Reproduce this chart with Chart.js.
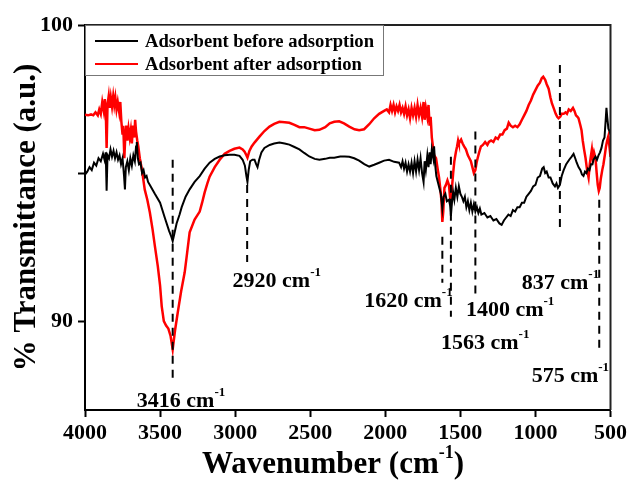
<!DOCTYPE html>
<html>
<head>
<meta charset="utf-8">
<script src="https://cdn.jsdelivr.net/npm/chart.js@4.4.1/dist/chart.umd.min.js"></script>
<style>
  body { margin: 0; background: #fff; }
</style>
</head>
<body>
<canvas id="myChart" width="630" height="480"></canvas>
<script>
const FONT = '"Liberation Serif", "Times New Roman", serif'

// spectrum before adsorption: [wavenumber, %T]
const antes = [
  [4000,94.95],[3985,95.05],[3970,95.2],[3955,95.1],[3940,95.35],[3925,95.25],[3910,95.5],[3895,95.4],
  [3880,95.65],[3870,95.45],[3862,95.7],[3856,94.4],[3850,95.6],[3840,95.5],[3830,95.8],[3820,95.55],
  [3810,95.75],[3800,95.5],[3790,95.7],[3780,95.45],[3770,95.6],[3760,95.3],[3750,95.5],[3740,94.9],
  [3734,94.45],[3728,95.2],[3718,95.4],[3708,95.1],[3698,95.5],[3688,95.25],[3678,95.6],[3668,95.4],
  [3660,95.9],[3655,96.05],[3648,95.5],[3640,95.3],[3630,95.35],[3620,95.0],[3610,95.1],[3600,94.85],
  [3590,94.9],[3580,94.7],[3568,94.6],[3535,94.3],[3500,94.0],[3469,93.5],[3440,93.05],[3425,92.85],
  [3416,92.7],[3405,92.95],[3390,93.3],[3370,93.6],[3356,93.85],[3330,94.2],[3303,94.45],[3270,94.7],
  [3236,94.9],[3203,95.15],[3170,95.35],[3136,95.48],[3103,95.56],[3070,95.6],[3037,95.62],[3005,95.62],
  [2971,95.58],[2950,95.45],[2935,95.25],[2925,94.9],[2918,94.7],[2910,95.1],[2900,95.4],[2885,95.45],
  [2871,95.45],[2860,95.3],[2851,95.2],[2840,95.45],[2825,95.7],[2805,95.85],[2770,95.95],[2740,96.0],
  [2705,96.03],[2670,96.0],[2639,95.96],[2605,95.88],[2572,95.8],[2540,95.68],[2506,95.56],[2470,95.48],
  [2439,95.45],[2400,95.48],[2370,95.52],[2340,95.52],[2300,95.56],[2270,95.56],[2240,95.55],[2207,95.5],
  [2174,95.42],[2140,95.3],[2107,95.22],[2074,95.28],[2041,95.35],[2008,95.42],[1975,95.45],[1941,95.38],
  [1908,95.35],[1895,95.2],[1885,95.4],[1875,95.15],[1865,95.35],[1855,95.05],[1845,95.3],[1835,95.05],
  [1825,95.35],[1815,95.0],[1805,95.4],[1795,95.05],[1785,95.45],[1775,95.1],[1765,95.5],[1755,95.0],
  [1745,94.7],[1738,95.4],[1730,95.1],[1720,95.6],[1712,95.2],[1705,95.7],[1698,95.3],[1690,95.8],
  [1680,95.5],[1675,95.9],[1668,95.3],[1660,94.9],[1650,94.7],[1640,94.5],[1630,94.3],[1620,93.8],
  [1612,94.2],[1600,94.3],[1590,94.05],[1576,94.1],[1568,93.9],[1563,93.55],[1556,94.0],[1548,94.35],
  [1540,94.1],[1530,94.5],[1520,94.2],[1510,94.55],[1500,94.3],[1490,94.2],[1480,94.05],[1470,94.2],
  [1460,93.85],[1450,94.05],[1440,93.75],[1430,94.0],[1420,93.7],[1410,93.95],[1400,93.7],[1390,93.85],
  [1380,93.65],[1370,93.8],[1360,93.6],[1340,93.65],[1320,93.5],[1300,93.55],[1280,93.4],[1260,93.45],
  [1240,93.3],[1225,93.25],[1210,93.4],[1195,93.5],[1180,93.6],[1165,93.55],[1150,93.75],[1135,93.7],
  [1120,93.85],[1105,93.85],[1090,94.0],[1075,94.0],[1060,94.2],[1045,94.3],[1030,94.4],[1015,94.55],
  [1000,94.6],[985,94.85],[970,94.9],[955,95.15],[945,95.2],[935,95.0],[925,95.05],[912,94.85],
  [900,94.85],[885,94.65],[870,94.55],[860,94.65],[850,94.5],[837,94.6],[825,94.9],[812,95.1],
  [795,95.3],[775,95.45],[760,95.55],[746,95.65],[735,95.5],[725,95.35],[713,95.2],[700,95.1],
  [690,94.95],[680,94.9],[670,95.05],[660,95.0],[650,95.15],[640,95.1],[630,95.3],[620,95.3],
  [613,95.45],[600,95.55],[590,95.45],[580,95.6],[570,95.7],[560,95.85],[550,96.1],[540,96.2],
  [532,96.8],[527,97.2],[522,96.9],[514,96.5],[505,96.4],[500,96.3]
]

// spectrum after adsorption
const despues = [
  [4000,96.97],[3980,96.95],[3960,96.98],[3945,96.95],[3930,97.05],[3915,96.95],[3905,97.15],[3895,97.0],
  [3885,97.4],[3875,97.1],[3868,97.5],[3862,97.2],[3856,95.85],[3850,97.3],[3842,97.6],[3835,97.2],
  [3828,97.55],[3820,97.25],[3812,97.6],[3805,97.3],[3798,97.55],[3790,97.15],[3782,97.4],[3772,97.05],
  [3765,97.4],[3758,96.75],[3750,96.3],[3745,96.6],[3738,95.5],[3732,96.2],[3725,96.6],[3718,96.1],
  [3710,96.5],[3702,96.2],[3695,96.45],[3688,96.0],[3680,96.6],[3672,96.2],[3666,96.8],[3660,96.4],
  [3652,96.1],[3645,95.9],[3635,95.5],[3621,95.12],[3602,94.44],[3585,94.1],[3568,93.67],[3550,93.1],
  [3535,92.55],[3515,91.85],[3500,91.2],[3489,90.5],[3475,90.0],[3460,89.85],[3445,89.75],[3430,89.5],
  [3416,89.05],[3400,89.7],[3382,90.3],[3360,91.0],[3336,91.65],[3320,92.3],[3303,93.0],[3270,93.43],
  [3236,93.7],[3220,94.0],[3203,94.35],[3185,94.65],[3170,94.88],[3136,95.2],[3103,95.45],[3070,95.65],
  [3037,95.75],[3005,95.82],[2971,95.86],[2950,95.8],[2937,95.72],[2925,95.6],[2918,95.52],[2905,95.75],
  [2890,95.9],[2871,96.03],[2838,96.23],[2805,96.42],[2771,96.57],[2740,96.66],[2705,96.73],[2670,96.72],
  [2639,96.7],[2605,96.63],[2572,96.55],[2540,96.55],[2506,96.5],[2470,96.45],[2439,96.46],[2400,96.55],
  [2370,96.68],[2340,96.73],[2307,96.75],[2275,96.68],[2240,96.57],[2205,96.48],[2174,96.45],[2141,96.48],
  [2107,96.65],[2074,96.85],[2041,97.0],[2008,97.1],[1990,97.15],[1975,97.05],[1965,97.3],[1955,97.1],
  [1945,97.3],[1935,97.05],[1925,97.25],[1915,97.1],[1905,97.3],[1895,97.05],[1885,97.2],[1875,97.0],
  [1865,97.25],[1855,96.95],[1845,97.15],[1835,96.85],[1825,97.2],[1815,96.95],[1805,97.2],[1795,96.9],
  [1785,97.3],[1775,96.95],[1765,97.2],[1755,96.9],[1745,97.4],[1738,96.8],[1730,97.2],[1720,96.9],
  [1712,97.3],[1705,96.6],[1698,96.9],[1690,96.2],[1675,95.6],[1662,95.5],[1650,95.1],[1642,94.85],
  [1632,94.4],[1625,94.0],[1620,93.35],[1614,93.7],[1606,94.5],[1596,94.6],[1586,94.75],[1576,94.6],
  [1569,94.2],[1563,93.9],[1556,94.5],[1548,95.0],[1540,95.4],[1530,95.7],[1522,95.9],[1515,96.1],
  [1510,96.0],[1495,96.13],[1485,96.0],[1475,95.9],[1463,95.8],[1450,95.6],[1440,95.5],[1430,95.4],
  [1420,95.2],[1410,95.0],[1400,95.1],[1392,95.35],[1385,95.5],[1375,95.7],[1363,95.9],[1350,95.95],
  [1335,96.05],[1320,95.95],[1310,96.05],[1295,96.1],[1280,96.05],[1265,96.2],[1250,96.15],[1235,96.3],
  [1220,96.3],[1205,96.45],[1190,96.5],[1178,96.7],[1165,96.6],[1150,96.55],[1135,96.6],[1120,96.55],
  [1105,96.65],[1090,96.8],[1075,96.95],[1060,97.1],[1045,97.3],[1030,97.45],[1015,97.65],[1000,97.8],
  [985,97.95],[970,98.05],[958,98.2],[948,98.25],[935,98.15],[925,98.0],[912,97.85],[900,97.55],
  [890,97.35],[879,97.2],[865,97.0],[855,96.9],[846,96.85],[835,96.9],[825,97.0],[812,97.0],
  [800,97.05],[790,97.0],[778,97.15],[765,97.1],[750,97.2],[740,97.1],[730,96.95],[720,96.9],
  [713,96.85],[700,96.6],[693,96.45],[685,96.1],[676,95.8],[666,95.5],[656,95.1],[646,94.85],
  [638,95.3],[630,95.6],[624,95.8],[618,95.5],[610,95.7],[600,95.5],[592,95.0],[585,94.6],
  [578,94.4],[572,94.5],[565,94.8],[555,95.1],[547,95.3],[538,95.6],[530,95.9],[522,96.1],
  [514,96.25],[505,95.8],[500,95.55]
]

const etiquetas = ['Adsorbent before adsorption', 'Adsorbent after adsorption']
const colores = ['#000000', '#ff0000']

const xTicks = [4000, 3500, 3000, 2500, 2000, 1500, 1000, 500]
const yTicks = [90, 95, 100]
const yLabels = [90, 100]

// peak marks: wavenumber, dashed line from yTop to yBottom
const picos = [3416, 2920, 1620, 1563, 1400, 837, 575]
const picoTop = [95.45, 94.6, 92.85, 95.55, 96.4, 98.65, 94.1]
const picoBottom = [88.05, 92.0, 91.3, 90.15, 90.9, 93.0, 89.1]
// label anchor (left edge, baseline) in data units
const labelX = [3655, 3017, 2140, 1629, 1463, 1091, 1025]
const labelY = [87.1, 91.14, 90.47, 89.06, 90.17, 91.08, 87.95]

const toXY = arr => arr.map(p => ({ x: p[0], y: p[1] }))

const dashSets = picos.map((w, i) => ({
    data: [{ x: w, y: picoTop[i] }, { x: w, y: picoBottom[i] }],
    borderColor: '#000',
    borderWidth: 2,
    borderDash: [8, 6],
    pointRadius: 0
}))

const extras = {
    id: 'extras',
    afterDraw(chart) {
        const ctx = chart.ctx
        const a = chart.chartArea
        const sx = chart.scales.x
        const sy = chart.scales.y
        ctx.save()
        // frame top/right
        ctx.strokeStyle = '#222'
        ctx.lineWidth = 2
        ctx.beginPath()
        ctx.moveTo(a.left, a.top)
        ctx.lineTo(a.right, a.top)
        ctx.lineTo(a.right, a.bottom)
        ctx.stroke()

        // legend box
        ctx.fillStyle = '#fff'
        ctx.fillRect(a.left + 1, a.top + 1, 297, 49)
        ctx.strokeStyle = '#777'
        ctx.lineWidth = 1
        ctx.strokeRect(a.left + 0.5, a.top + 0.5, 298, 50)
        ctx.font = 'bold 18.6px ' + FONT
        ctx.textBaseline = 'middle'
        ctx.textAlign = 'left'
        etiquetas.forEach((t, i) => {
            const yy = a.top + 16 + i * 23
            ctx.strokeStyle = colores[i]
            ctx.lineWidth = 2
            ctx.beginPath()
            ctx.moveTo(a.left + 10, yy)
            ctx.lineTo(a.left + 53, yy)
            ctx.stroke()
            ctx.fillStyle = '#000'
            ctx.fillText(t, a.left + 60, yy + 1)
        })

        // peak labels with superscript
        ctx.fillStyle = '#000'
        ctx.textBaseline = 'alphabetic'
        picos.forEach((w, i) => {
            const px = sx.getPixelForValue(labelX[i])
            const py = sy.getPixelForValue(labelY[i])
            ctx.font = 'bold 22px ' + FONT
            const txt = w + ' cm'
            ctx.fillText(txt, px, py)
            const wd = ctx.measureText(txt).width
            ctx.font = 'bold 13px ' + FONT
            ctx.fillText('-1', px + wd, py - 11)
        })

        // x title
        ctx.font = 'bold 31px ' + FONT
        const t1 = 'Wavenumber (cm'
        const w1 = ctx.measureText(t1).width
        ctx.font = 'bold 18px ' + FONT
        const w2 = ctx.measureText('-1').width
        ctx.font = 'bold 31px ' + FONT
        const w3 = ctx.measureText(')').width
        let x0 = 333 - (w1 + w2 + w3) / 2
        ctx.fillText(t1, x0, 473)
        ctx.font = 'bold 18px ' + FONT
        ctx.fillText('-1', x0 + w1, 458)
        ctx.font = 'bold 31px ' + FONT
        ctx.fillText(')', x0 + w1 + w2, 473)

        // y title
        ctx.translate(27, (a.top + a.bottom) / 2)
        ctx.rotate(-Math.PI / 2)
        ctx.textAlign = 'center'
        ctx.textBaseline = 'middle'
        ctx.fillText('% Transmittance (a.u.)', 0, 0)
        ctx.restore()
    }
}

const ctx = document.getElementById('myChart')
const myChart = new Chart(ctx, {
    type: 'line',
    data: {
        datasets: [
            ...dashSets,
            {
                label: etiquetas[0],
                data: toXY(antes),
                borderColor: colores[0],
                borderWidth: 2,
                pointRadius: 0
            },
            {
                label: etiquetas[1],
                data: toXY(despues),
                borderColor: colores[1],
                borderWidth: 2.5,
                pointRadius: 0
            }
        ]
    },
    options: {
        responsive: false,
        animation: false,
        layout: { padding: { top: 25, right: 17 } },
        plugins: { legend: { display: false }, tooltip: { enabled: false } },
        elements: { line: { tension: 0 } },
        scales: {
            x: {
                type: 'linear',
                reverse: true,
                min: 500,
                max: 4000,
                afterBuildTicks: s => { s.ticks = xTicks.map(v => ({ value: v })) },
                afterFit: s => { s.height = 70 },
                grid: { drawOnChartArea: false, tickLength: 7, tickWidth: 2, tickColor: '#000' },
                border: { color: '#000', width: 2 },
                ticks: {
                    color: '#000',
                    padding: 3,
                    maxRotation: 0,
                    font: { family: FONT, size: 22, weight: 'bold' },
                    callback: v => String(v)
                }
            },
            y: {
                min: 87,
                max: 100,
                afterBuildTicks: s => { s.ticks = yTicks.map(v => ({ value: v })) },
                afterFit: s => { s.width = 85 },
                grid: { drawOnChartArea: false, tickLength: 7, tickWidth: 2, tickColor: '#000' },
                border: { color: '#000', width: 2 },
                ticks: {
                    color: '#000',
                    padding: 5,
                    font: { family: FONT, size: 22, weight: 'bold' },
                    callback: v => yLabels.includes(v) ? String(v) : ''
                }
            }
        }
    },
    plugins: [extras]
})
</script>
</body>
</html>
